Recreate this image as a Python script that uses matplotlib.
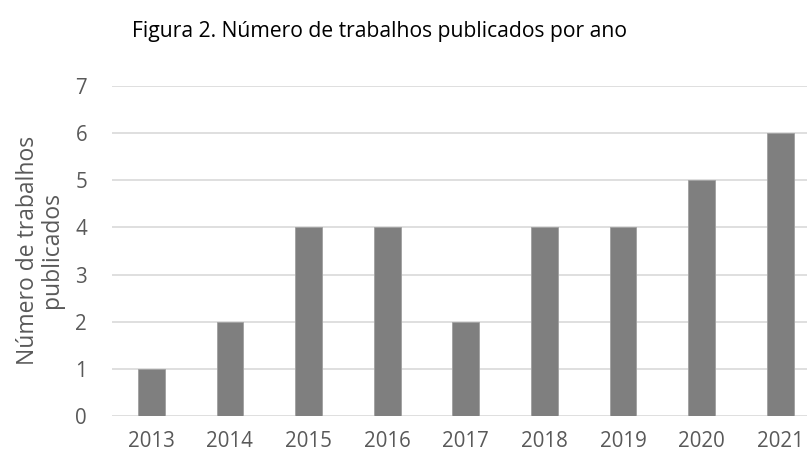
import matplotlib.pyplot as plt

anos = ['2013', '2014', '2015', '2016', '2017', '2018', '2019', '2020', '2021']
trabalhos = [1, 2, 4, 4, 2, 4, 4, 5, 6]

plt.rcParams['font.family'] = ['Open Sans', 'DejaVu Sans']

fig = plt.figure(figsize=(8.07, 4.57), dpi=100)
# plot area in pixels: x 112..807, y 86..416
ax = fig.add_axes([112/807, 1 - 416/457, 695/807, 330/457])

x = range(len(anos))
ax.bar(x, trabalhos, width=0.34, color='#7f7f7f', edgecolor='#a0a0a0', linewidth=0.6, zorder=3)

ax.set_xlim(-0.5, 8.34)
ax.set_ylim(0, 7)
ax.set_yticks(range(0, 8))
ax.set_xticks(list(x))
ax.set_xticklabels(anos)
ax.yaxis.grid(True, color='#d9d9d9', linewidth=1.2, zorder=0)
ax.set_axisbelow(True)
for s in ax.spines.values():
    s.set_visible(False)
ax.tick_params(axis='both', length=0, labelsize=14.8, colors='#595959')
ax.tick_params(axis='y', pad=18)
ax.tick_params(axis='x', pad=11)

fig.text(40/807, 1 - 250/457, 'Número de trabalhos\npublicados', rotation=90,
         ha='center', va='center', fontsize=16.5, color='#595959',
         linespacing=1.05, multialignment='center')

fig.text(379/807, 1 - 31/457, 'Figura 2. Número de trabalhos publicados por ano',
         ha='center', va='center', fontsize=15.2, color='black')

fig.savefig('out.png', dpi=100)
